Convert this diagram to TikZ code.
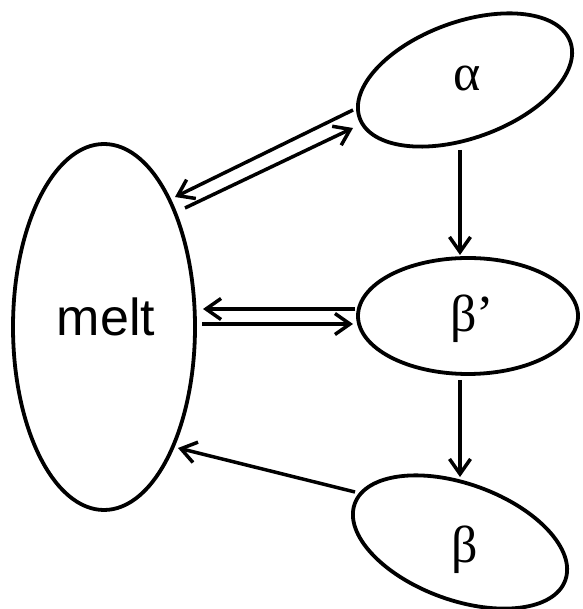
\documentclass[tikz,border=0pt]{standalone}
\usepackage{fontspec}
\setmainfont{Liberation Serif}
\newfontfamily\arialfont{Liberation Sans}
\usetikzlibrary{shapes.geometric,arrows.meta,calc}
\tikzset{
  phase/.style={draw=black, line width=3.8pt, ellipse, inner sep=0pt, outer sep=0pt},
  lbl/.style={inner sep=0pt, font=\fontsize{52}{52}\selectfont},
  arr/.style={line width=3.5pt, -{Straight Barb[length=15pt,width=21pt,line width=3.5pt]}}
}
\begin{document}
\begin{tikzpicture}[x=1pt,y=1pt]
\useasboundingbox (0,0) rectangle (582,609);
\node[phase, minimum width=182pt, minimum height=366pt] (melt) at (104,282) {};
\node[phase, minimum width=224pt, minimum height=116pt, rotate=20] (alpha) at (465,529) {};
\node[phase, minimum width=220pt, minimum height=116pt] (betap) at (468,293) {};
\node[phase, minimum width=224pt, minimum height=116pt, rotate=-20] (beta) at (460,67) {};
\node[lbl, font=\arialfont\fontsize{52}{52}\selectfont] (tmelt) at (106,292.5) {melt};
\node[lbl] (talpha) at (467,530) {α};
\node[lbl] (tbetap) at (472,290.5) {β’};
\node[lbl] (tbeta) at (465,59.5) {β};
% melt <-> alpha
\draw[arr] ($(alpha.center)+(-112,-30)$) -- ($(melt.center)+(71,130)$);
\draw[arr] ($(melt.center)+(81,119)$) -- ($(alpha.center)+(-112,-48)$);
% melt <-> beta'
\draw[arr] ($(betap.center)+(-113,7)$) -- ($(melt.center)+(99,18)$);
\draw[arr] ($(melt.center)+(98,3)$) -- ($(betap.center)+(-115,-8)$);
% alpha -> beta' -> beta
\draw[arr] ($(alpha.center)+(-5,-70)$) -- ($(betap.center)+(-8,61)$);
\draw[arr] ($(betap.center)+(-8,-64)$) -- ($(beta.center)+(0,65)$);
% beta -> melt
\draw[arr] ($(beta.center)+(-105,50)$) -- ($(melt.center)+(74,-121)$);
\end{tikzpicture}
\end{document}
